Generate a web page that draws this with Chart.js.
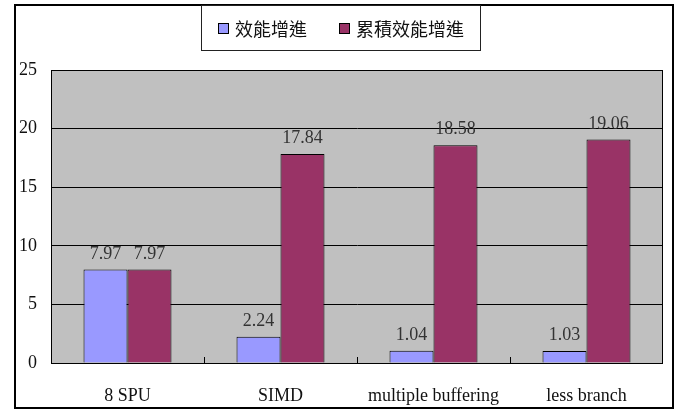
<!DOCTYPE html>
<html lang="zh-Hant">
<head>
    <meta charset="utf-8">
    <title>效能增進</title>
    <script src="https://cdn.jsdelivr.net/npm/chart.js@4.4.0/dist/chart.umd.min.js"></script>
    <style>
        html, body { margin: 0; padding: 0; background: #fff; }
        #wrap { width: 680px; height: 410px; }
    </style>
</head>
<body>
<div id="wrap"><canvas id="myChart" width="680" height="410"></canvas></div>

<script>
    // data
    let categories = ['8 SPU', 'SIMD', 'multiple buffering', 'less branch'];
    let seriesNames = ['效能增進', '累積效能增進'];
    let speedup = [7.97, 2.24, 1.04, 1.03];
    let cumulative = [7.97, 17.84, 18.58, 19.06];
    let yMax = 25;
    let yStep = 5;

    let colors = ['#9999FF', '#993366'];
    let serif = "'Liberation Serif', 'Times New Roman', serif";
    let cjk = "'Noto Sans CJK TC', 'Noto Sans CJK SC', sans-serif";

    // gray plot background
    let plotBg = {
        id: 'plotBg',
        beforeDraw: (chart) => {
            let a = chart.chartArea;
            let ctx = chart.ctx;
            ctx.save();
            ctx.fillStyle = '#C0C0C0';
            ctx.fillRect(a.left, a.top, a.right - a.left, a.bottom - a.top);
            ctx.restore();
        }
    };

    // frame, plot border, category ticks, value labels, legend box
    let extras = {
        id: 'extras',
        afterDatasetsDraw: (chart) => {
            let ctx = chart.ctx;
            let a = chart.chartArea;
            let x = chart.scales.x;
            ctx.save();

            // plot border
            ctx.strokeStyle = '#000';
            ctx.lineWidth = 1;
            ctx.strokeRect(a.left + 0.5, a.top + 0.5, a.right - a.left - 1, a.bottom - a.top);

            // small ticks between categories, pointing up
            ctx.beginPath();
            for (let i = 0; i < categories.length - 1; i++) {
                let px = Math.round((x.getPixelForValue(i) + x.getPixelForValue(i + 1)) / 2) + 0.5;
                ctx.moveTo(px, a.bottom);
                ctx.lineTo(px, a.bottom - 6);
            }
            ctx.stroke();

            // value labels
            ctx.font = '18px ' + serif;
            ctx.fillStyle = '#333';
            ctx.textAlign = 'center';
            ctx.textBaseline = 'alphabetic';
            chart.data.datasets.forEach((ds, di) => {
                chart.getDatasetMeta(di).data.forEach((bar, i) => {
                    ctx.fillText(ds.data[i].toFixed(2), bar.x, bar.y - 11);
                });
            });

            // outer frame
            ctx.lineWidth = 2;
            ctx.strokeStyle = '#000';
            ctx.strokeRect(15, 5, 658, 403);

            // legend
            ctx.lineWidth = 1;
            ctx.fillStyle = '#fff';
            ctx.fillRect(201, 6, 279, 44);
            ctx.strokeStyle = '#222';
            ctx.strokeRect(201.5, 5.5, 279, 45);
            let lx = [218, 339];
            ctx.font = '18px ' + cjk;
            ctx.textAlign = 'left';
            ctx.textBaseline = 'middle';
            seriesNames.forEach((name, i) => {
                ctx.fillStyle = colors[i];
                ctx.fillRect(lx[i], 23, 10, 10);
                ctx.strokeStyle = '#000';
                ctx.strokeRect(lx[i] + 0.5, 23.5, 10, 10);
                ctx.fillStyle = '#111';
                ctx.fillText(name, lx[i] + 17, 29);
            });
            ctx.restore();
        }
    };

    let ctx1 = document.getElementById('myChart').getContext('2d');
    let myChart = new Chart(ctx1, {
        type: 'bar',
        data: {
            labels: categories,
            datasets: [{
                label: seriesNames[0],
                data: speedup,
                backgroundColor: colors[0],
                borderColor: '#000',
                borderWidth: 1
            }, {
                label: seriesNames[1],
                data: cumulative,
                backgroundColor: colors[1],
                borderColor: '#000',
                borderWidth: 1
            }]
        },
        options: {
            responsive: false,
            animation: false,
            layout: { padding: { left: 15, right: 17, top: 70, bottom: 0 } },
            plugins: {
                legend: { display: false },
                tooltip: { enabled: false }
            },
            datasets: {
                bar: { categoryPercentage: 0.575, barPercentage: 1 }
            },
            scales: {
                x: {
                    grid: { display: false },
                    border: { display: false },
                    ticks: { color: '#111', font: { family: serif, size: 18 }, padding: 14, maxRotation: 0 },
                    afterFit: (scale) => { scale.height = 47; }
                },
                y: {
                    min: 0,
                    max: yMax,
                    grid: { color: '#000', drawTicks: false },
                    border: { display: true, color: '#000' },
                    ticks: { stepSize: yStep, color: '#111', font: { family: serif, size: 18 }, padding: 14 },
                    afterFit: (scale) => { scale.width = 36; }
                }
            }
        },
        plugins: [plotBg, extras]
    });
</script>
</body>
</html>
